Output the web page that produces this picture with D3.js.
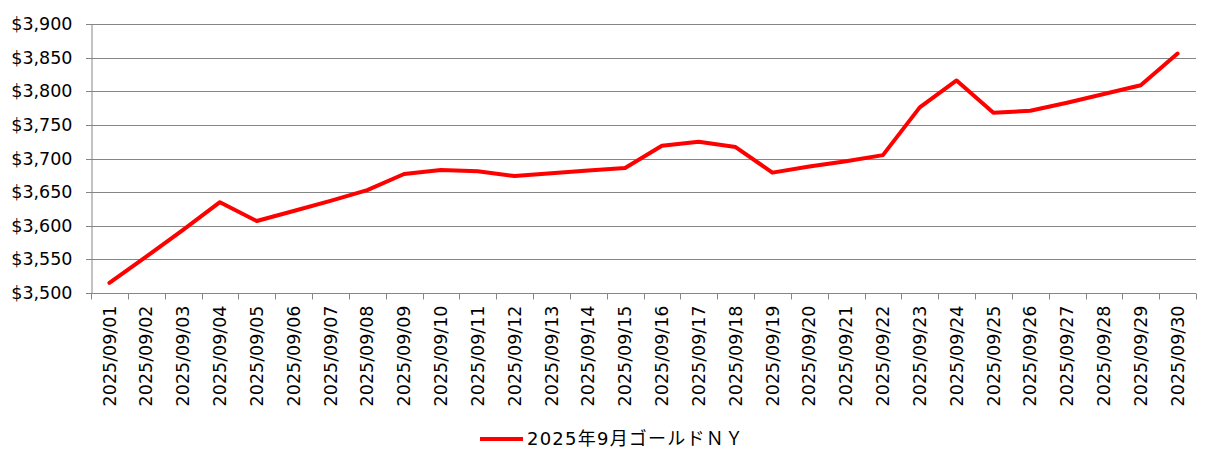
<!DOCTYPE html>
<html><head><meta charset="utf-8">
<script src="https://cdn.jsdelivr.net/npm/d3@7"></script>
<style>body{margin:0;background:#fff}svg{display:block}</style>
</head><body>
<script>
const categories = ["2025/09/01","2025/09/02","2025/09/03","2025/09/04","2025/09/05","2025/09/06","2025/09/07","2025/09/08","2025/09/09","2025/09/10","2025/09/11","2025/09/12","2025/09/13","2025/09/14","2025/09/15","2025/09/16","2025/09/17","2025/09/18","2025/09/19","2025/09/20","2025/09/21","2025/09/22","2025/09/23","2025/09/24","2025/09/25","2025/09/26","2025/09/27","2025/09/28","2025/09/29","2025/09/30"];
const values = [3515,3554,3594,3635,3607,3622,3637,3653,3677,3683,3681,3674,3678,3682,3686,3719,3725,3717,3679,3688,3696,3705,3776,3816,3768,3771,3783,3796,3809,3856];
const yTicks = [3500,3550,3600,3650,3700,3750,3800,3850,3900];
const seriesName = "2025年9月ゴールドＮＹ";

const W = 1221, H = 471;
const m = {left: 91, right: 25, top: 24, bottom: 178};
const svg = d3.select("body").append("svg").attr("width", W).attr("height", H);
const font = "'DejaVu Sans', 'Noto Sans CJK JP', sans-serif";

const x = d3.scaleBand().domain(categories).range([m.left, W - m.right]);
const y = d3.scaleLinear().domain([3500, 3900]).range([H - m.bottom, m.top]);

// gridlines
svg.append("g").selectAll("line").data(yTicks).join("line")
  .attr("x1", m.left - 5).attr("x2", W - m.right)
  .attr("y1", d => Math.round(y(d)) + 0.5).attr("y2", d => Math.round(y(d)) + 0.5)
  .attr("stroke", "#868686").attr("stroke-width", 1);

// y axis
const ya = svg.append("g").attr("transform", `translate(${m.left + 0.5},0)`)
  .call(d3.axisLeft(y).tickValues(yTicks).tickSize(0).tickPadding(19)
    .tickFormat(d => "$" + d3.format(",")(d)));
ya.select(".domain").attr("stroke", "#868686");
ya.selectAll("text").attr("font-family", font).attr("font-size", 17.5).attr("fill", "#000");

// x axis
const bottomY = Math.round(y(3500)) + 0.5;
const xa = svg.append("g").attr("transform", `translate(0,${bottomY})`)
  .call(d3.axisBottom(x).tickSize(0));
xa.select(".domain").remove();
svg.append("line").attr("x1", m.left).attr("x2", W - m.right).attr("y1", bottomY).attr("y2", bottomY).attr("stroke", "#868686");
const edges = categories.map(c => x(c)).concat([x(categories[categories.length-1]) + x.bandwidth()]);
svg.append("g").selectAll("line").data(edges).join("line")
  .attr("x1", d => Math.round(d) + 0.5).attr("x2", d => Math.round(d) + 0.5)
  .attr("y1", bottomY).attr("y2", bottomY + 6).attr("stroke", "#868686");
xa.selectAll(".tick text")
  .attr("font-family", font).attr("font-size", 17.5).attr("fill", "#000")
  .attr("transform", "rotate(-90)")
  .attr("text-anchor", "end").attr("dy", "0.35em")
  .attr("x", -12).attr("y", 0);

// line
const line = d3.line().x((d, i) => x(categories[i]) + x.bandwidth() / 2).y(d => y(d));
svg.append("path").datum(values).attr("d", line)
  .attr("fill", "none").attr("stroke", "#ff0000").attr("stroke-width", 4)
  .attr("stroke-linejoin", "round").attr("stroke-linecap", "round");

// legend
const lg = svg.append("g").attr("transform", "translate(480,439)");
lg.append("line").attr("x1", 0).attr("x2", 43).attr("y1", 0).attr("y2", 0)
  .attr("stroke", "#ff0000").attr("stroke-width", 4);
lg.append("text").attr("x", 47).attr("y", 0).attr("dy", "0.35em")
  .attr("font-family", font).attr("font-size", 18).attr("fill", "#000")
  .attr("textLength", 216).attr("lengthAdjust", "spacing").text(seriesName);
</script>
</body></html>
